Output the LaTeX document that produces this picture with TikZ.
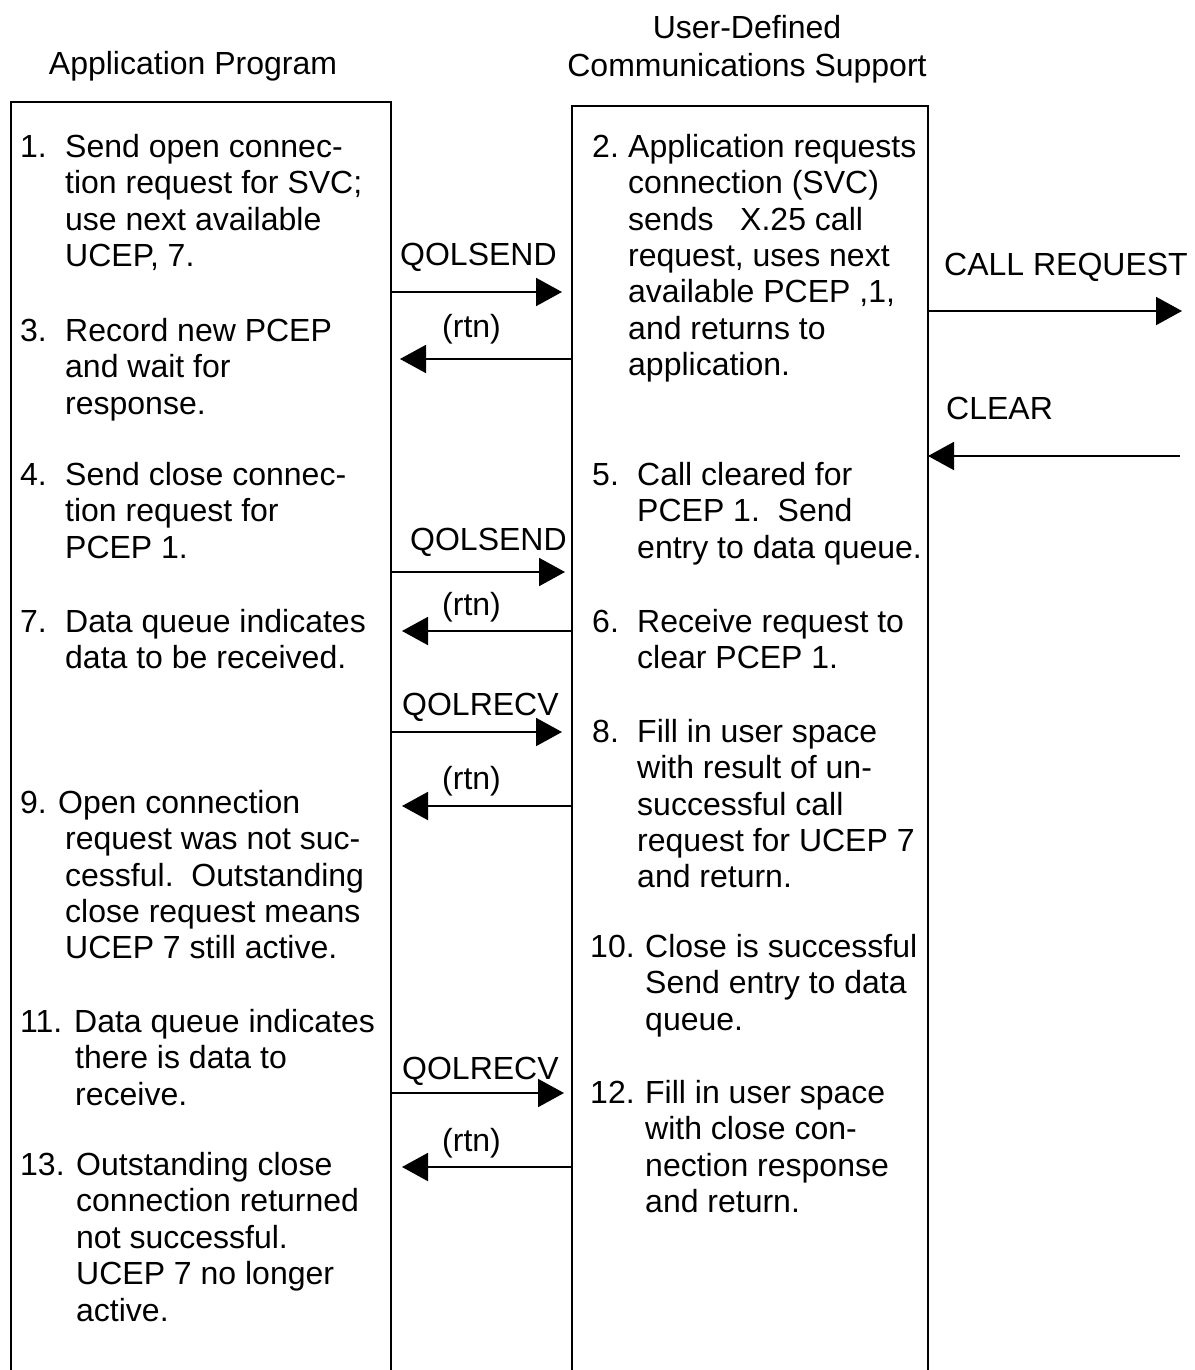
\documentclass[tikz,border=0pt]{standalone}
\usepackage{fontspec}
\setmainfont{Liberation Sans}
\usetikzlibrary{arrows.meta}
\newcommand{\fsz}{\fontsize{32}{36.4}\selectfont}
\newcommand{\nb}[2]{\makebox[#1][l]{#2}}
\newcommand{\ii}[1]{\hspace*{#1}}
\tikzset{
  box/.style={draw, line width=2pt, outer sep=0pt, inner sep=0pt, anchor=north west},
  txt/.style={anchor=north west, inner sep=0pt, align=left, font=\fsz, yshift=23pt, execute at begin node=\strut},
  lbl/.style={anchor=base west, inner sep=0pt, font=\fsz},
  hdr/.style={anchor=base, inner sep=0pt, font=\fsz},
  arr/.style={line width=2pt, -{Triangle[length=26pt,width=28pt]}}
}
\begin{document}
\begin{tikzpicture}[x=1pt,y=-1pt]
\useasboundingbox (0,0) rectangle (1194,1370);
% headers
\node[hdr] (h1) at (193,75) {Application Program};
\node[hdr] (h2) at (747,39) {User-Defined};
\node[hdr] (h3) at (747,77) {Communications Support};
% boxes (open at the bottom, running off the page)
\node[box, minimum width=380pt, minimum height=1320pt] (L) at (11,102) {};
\node[box, minimum width=356pt, minimum height=1320pt] (R) at (572,106) {};
% left column items
\node[txt] (t1) at (20,157) {\nb{45pt}{1.}Send open connec-\\\ii{45pt}tion request for SVC;\\\ii{45pt}use next available\\\ii{45pt}UCEP, 7.};
\node[txt] (t3) at (20,341) {\nb{45pt}{3.}Record new PCEP\\\ii{45pt}and wait for\\\ii{45pt}response.};
\node[txt] (t4) at (20,485) {\nb{45pt}{4.}Send close connec-\\\ii{45pt}tion request for\\\ii{45pt}PCEP 1.};
\node[txt] (t7) at (20,632) {\nb{45pt}{7.}Data queue indicates\\\ii{45pt}data to be received.};
\node[txt] (t9) at (20,813) {\nb{38pt}{9.}Open connection\\\ii{45pt}request was not suc-\\\ii{45pt}cessful.\ \ Outstanding\\\ii{45pt}close request means\\\ii{45pt}UCEP 7 still active.};
\node[txt] (t11) at (20,1032) {\nb{54pt}{11.}Data queue indicates\\\ii{55pt}there is data to\\\ii{55pt}receive.};
\node[txt] (t13) at (20,1175) {\nb{56pt}{13.}Outstanding close\\\ii{56pt}connection returned\\\ii{56pt}not successful.\\\ii{56pt}UCEP 7 no longer\\\ii{56pt}active.};
% right column items
\node[txt] (t2) at (592,157) {\nb{36pt}{2.}Application requests\\\ii{36pt}connection (SVC)\\\ii{36pt}sends\ \ \ X.25 call\\\ii{36pt}request, uses next\\\ii{36pt}available PCEP ,1,\\\ii{36pt}and returns to\\\ii{36pt}application.};
\node[txt] (t5) at (592,485) {\nb{45pt}{5.}Call cleared for\\\ii{45pt}PCEP 1.\ \ Send\\\ii{45pt}entry to data queue.};
\node[txt] (t6) at (592,632) {\nb{45pt}{6.}Receive request to\\\ii{45pt}clear PCEP 1.};
\node[txt] (t8) at (592,742) {\nb{45pt}{8.}Fill in user space\\\ii{45pt}with result of un-\\\ii{45pt}successful call\\\ii{45pt}request for UCEP 7\\\ii{45pt}and return.};
\node[txt] (t10) at (590,957) {\nb{55pt}{10.}Close is successful\\\ii{55pt}Send entry to data\\\ii{55pt}queue.};
\node[txt] (t12) at (590,1103) {\nb{55pt}{12.}Fill in user space\\\ii{55pt}with close con-\\\ii{55pt}nection response\\\ii{55pt}and return.};
% connector labels
\node[lbl] (q1) at (400,265) {QOLSEND};
\node[lbl] (r1) at (442,337) {(rtn)};
\node[lbl] (cr) at (944,275) {CALL REQUEST};
\node[lbl] (cl) at (946,419) {CLEAR};
\node[lbl] (q2) at (410,550) {QOLSEND};
\node[lbl] (r2) at (442,615) {(rtn)};
\node[lbl] (q3) at (402,715) {QOLRECV};
\node[lbl] (r3) at (442,789) {(rtn)};
\node[lbl] (q4) at (402,1079) {QOLRECV};
\node[lbl] (r4) at (442,1151) {(rtn)};
% free ends on the right
\coordinate (crEnd) at (1182,311);
\coordinate (clStart) at (1180,456);
% connectors
\draw[arr, shorten >=10pt] (L.east |- 0,292) -- (R.west |- 0,292);
\draw[arr, shorten >=9pt] (R.west |- 0,359) -- (L.east |- 0,359);
\draw[arr] (R.east |- 0,311) -- (crEnd);
\draw[arr] (clStart) -- (R.east |- 0,456);
\draw[arr, shorten >=7pt] (L.east |- 0,572) -- (R.west |- 0,572);
\draw[arr, shorten >=11pt] (R.west |- 0,631) -- (L.east |- 0,631);
\draw[arr, shorten >=10pt] (L.east |- 0,732) -- (R.west |- 0,732);
\draw[arr, shorten >=11pt] (R.west |- 0,806) -- (L.east |- 0,806);
\draw[arr, shorten >=8pt] (L.east |- 0,1093) -- (R.west |- 0,1093);
\draw[arr, shorten >=11pt] (R.west |- 0,1167) -- (L.east |- 0,1167);
\end{tikzpicture}
\end{document}
